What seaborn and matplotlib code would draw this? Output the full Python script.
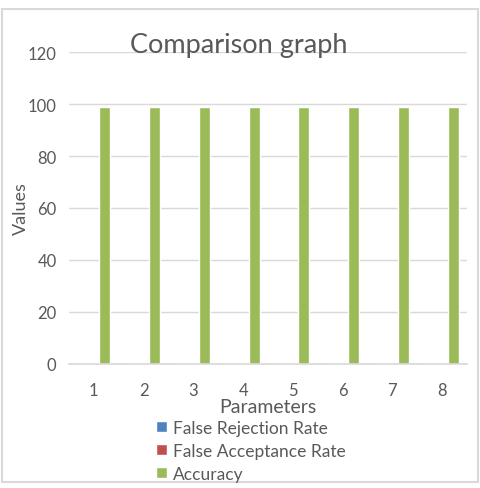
import matplotlib
matplotlib.use("Agg")
import matplotlib.pyplot as plt
from matplotlib.patches import Rectangle
import seaborn as sns
import pandas as pd

parameters = ["1", "2", "3", "4", "5", "6", "7", "8"]
series = ["False Rejection Rate", "False Acceptance Rate", "Accuracy"]
frr = [0.5, 0.5, 0.5, 0.5, 0.5, 0.5, 0.5, 0.5]
far = [0.4, 0.4, 0.4, 0.4, 0.4, 0.4, 0.4, 0.4]
accuracy = [99, 99, 99, 99, 99, 99, 99, 99]
colors = ["#4F81BD", "#C0504D", "#9BBB59"]

rows = []
for name, vals in zip(series, [frr, far, accuracy]):
    for p, v in zip(parameters, vals):
        rows.append({"Parameters": p, "Series": name, "Values": v})
df = pd.DataFrame(rows)

sns.set_theme(style="white")
plt.rcParams['font.family'] = ['Lato', 'DejaVu Sans']
text_gray = "#595959"

fig = plt.figure(figsize=(4.81, 4.89), dpi=100)
ax = fig.add_axes([0.1435, 0.2536, 0.8275, 0.638])

sns.barplot(data=df, x="Parameters", y="Values", hue="Series",
            palette=colors, width=0.66, ax=ax, saturation=1, legend=True)

ax.set_ylim(0, 120)
ax.set_xlim(-0.5, 7.5)
ax.set_yticks(range(0, 121, 20))
ax.yaxis.grid(True, color="#D9D9D9", linewidth=1)
ax.set_axisbelow(True)
for s in ["top", "right", "left"]:
    ax.spines[s].set_visible(False)
ax.spines["bottom"].set_color("#D9D9D9")
ax.tick_params(axis="both", length=0, labelsize=12, colors=text_gray, pad=9)
ax.tick_params(axis="x", pad=13)

ax.set_xlabel("Parameters", fontsize=14, color=text_gray, labelpad=0)
ax.set_ylabel("Values", fontsize=13, color=text_gray, labelpad=-1)
fig.text(0.497, 0.907, "Comparison graph", ha="center", va="center",
         fontsize=19.5, color=text_gray)

handles, labels = ax.get_legend_handles_labels()
ax.legend_.remove()
fig.legend(handles, labels, loc="upper left", bbox_to_anchor=(0.31, 0.154),
           frameon=False, fontsize=12.5, labelcolor=text_gray,
           handlelength=0.65, handleheight=0.65, handletextpad=0.35,
           labelspacing=0.4, borderaxespad=0)

fig.patches.append(Rectangle((0.004, 0.012), 0.99, 0.968, transform=fig.transFigure,
                             fill=False, edgecolor="#D9D9D9", linewidth=1.5))

fig.savefig("out.png", dpi=100)
